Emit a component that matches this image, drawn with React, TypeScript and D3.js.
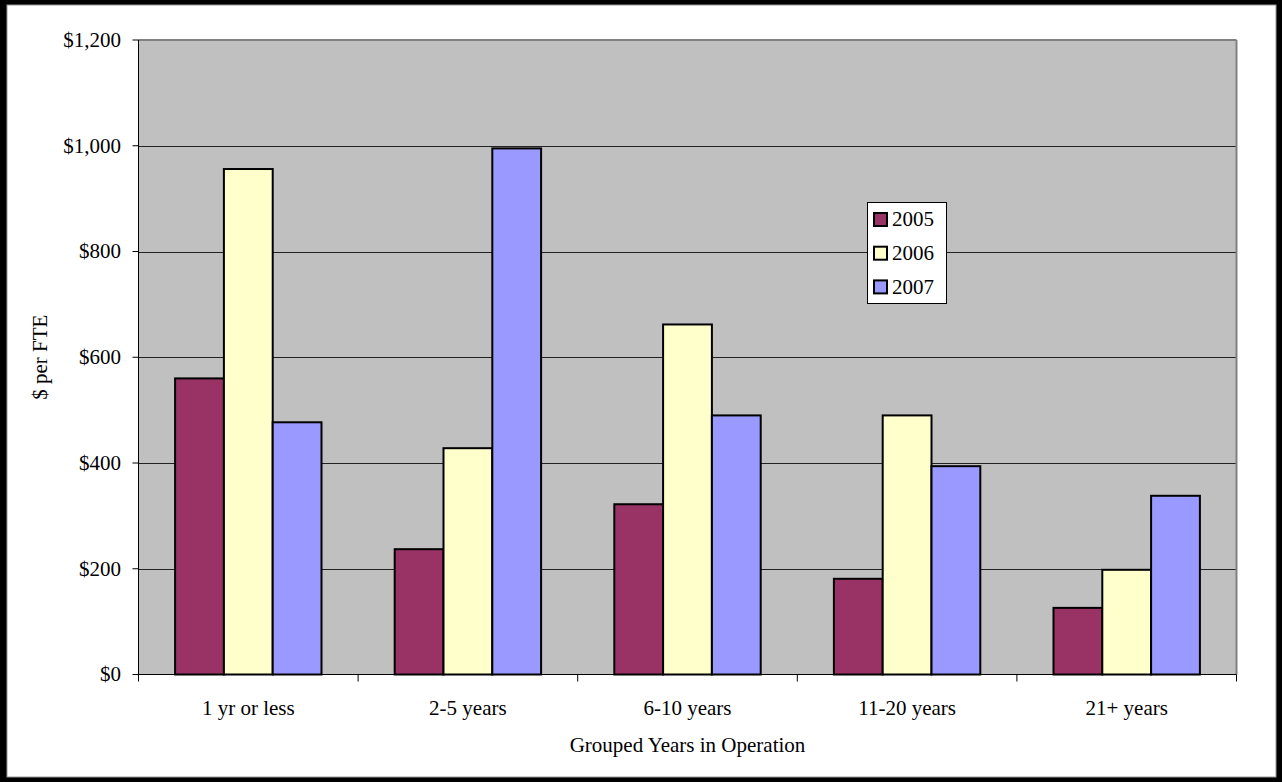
import React from "react";
import * as d3 from "d3";

const categories = ["1 yr or less", "2-5 years", "6-10 years", "11-20 years", "21+ years"];
const seriesNames = ["2005", "2006", "2007"];
const values2005 = [560, 237, 322, 181, 126];
const values2006 = [956, 428, 662, 490, 198];
const values2007 = [477, 995, 490, 394, 338];
const seriesColors = ["#993366", "#FFFFCC", "#9999FF"];
const yTicks = [0, 200, 400, 600, 800, 1000, 1200];

const W = 1282;
const H = 782;
const plot = { left: 138.5, right: 1236.5, top: 40, bottom: 674.5 };
const font = "Liberation Serif, Times New Roman, serif";
const fs = 21;

export default function App() {
  const seriesValues = [values2005, values2006, values2007];
  const x = d3.scaleBand<string>().domain(categories).range([plot.left, plot.right]).paddingInner(0).paddingOuter(0);
  const xs = d3.scaleBand<string>().domain(seriesNames).range([0, x.bandwidth()]).paddingInner(0).paddingOuter(0.75);
  const y = d3.scaleLinear().domain([0, 1200]).range([plot.bottom, plot.top]);
  const fmt = (v: number) => "$" + d3.format(",")(v);
  const boundaries = categories.map((c) => x(c) as number).concat([plot.right]);

  return (
    <svg width={W} height={H} style={{ position: "absolute", left: 0, top: 0 }} xmlns="http://www.w3.org/2000/svg">
      <rect x={0} y={0} width={W} height={H} fill="#000" />
      <rect x={7} y={5} width={1269} height={772} fill="#fff" stroke="#999" strokeWidth={1} />
      <rect x={plot.left} y={plot.top} width={plot.right - plot.left} height={plot.bottom - plot.top} fill="#C0C0C0" />
      {yTicks.slice(1, -1).map((t) => (
        <line key={t} x1={plot.left} x2={plot.right} y1={Math.round(y(t)) + 0.5} y2={Math.round(y(t)) + 0.5} stroke="#222" strokeWidth={1} />
      ))}
      <line x1={plot.left} x2={plot.right} y1={plot.top} y2={plot.top} stroke="#808080" strokeWidth={2} />
      <line x1={plot.right} x2={plot.right} y1={plot.top} y2={plot.bottom} stroke="#808080" strokeWidth={2} />
      {categories.map((c, ci) =>
        seriesNames.map((s, si) => {
          const v = seriesValues[si][ci];
          const bx = (x(c) as number) + (xs(s) as number);
          return (
            <rect key={c + s} x={bx} y={y(v)} width={xs.bandwidth()} height={plot.bottom - y(v)} fill={seriesColors[si]} stroke="#000" strokeWidth={2} />
          );
        })
      )}
      <line x1={plot.left} x2={plot.left} y1={plot.top} y2={plot.bottom} stroke="#000" strokeWidth={1} />
      <line x1={plot.left} x2={plot.right} y1={plot.bottom} y2={plot.bottom} stroke="#000" strokeWidth={1} />
      {yTicks.map((t) => (
        <g key={t}>
          <line x1={plot.left - 6} x2={plot.left} y1={y(t)} y2={y(t)} stroke="#000" strokeWidth={1} />
          <text x={121} y={y(t)} dy="0.33em" textAnchor="end" fontFamily={font} fontSize={fs} fill="#000">{fmt(t)}</text>
        </g>
      ))}
      {boundaries.map((bx, i) => (
        <line key={i} x1={bx} x2={bx} y1={plot.bottom} y2={plot.bottom + 7} stroke="#000" strokeWidth={1} />
      ))}
      {categories.map((c) => (
        <text key={c} x={(x(c) as number) + x.bandwidth() / 2} y={715} textAnchor="middle" fontFamily={font} fontSize={fs} fill="#000">{c}</text>
      ))}
      <text x={(plot.left + plot.right) / 2} y={752} textAnchor="middle" fontFamily={font} fontSize={fs} fill="#000">Grouped Years in Operation</text>
      <text transform={`translate(47, ${(plot.top + plot.bottom) / 2}) rotate(-90)`} textAnchor="middle" fontFamily={font} fontSize={fs} fill="#000">$ per FTE</text>
      <rect x={867.5} y={202.5} width={79} height={101} fill="#fff" stroke="#000" strokeWidth={1} />
      {seriesNames.map((s, i) => {
        const cy = 219.5 + i * 33.7;
        return (
          <g key={s}>
            <rect x={874} y={cy - 6.5} width={13} height={13} fill={seriesColors[i]} stroke="#000" strokeWidth={2} />
            <text x={892} y={cy} dy="0.33em" fontFamily={font} fontSize={fs} fill="#000">{s}</text>
          </g>
        );
      })}
    </svg>
  );
}
